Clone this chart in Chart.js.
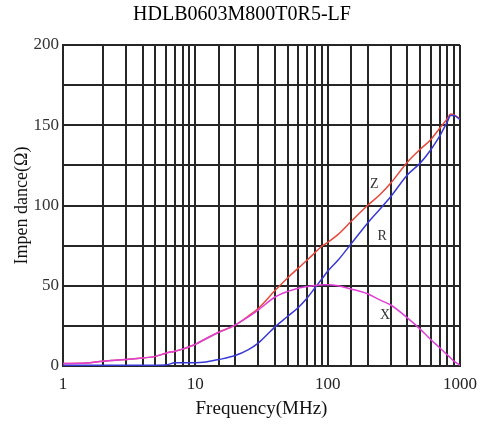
<!DOCTYPE html>
<html><head><meta charset="utf-8">
<script src="https://cdn.jsdelivr.net/npm/chart.js@4/dist/chart.umd.min.js"></script>
<style>html,body{margin:0;padding:0;background:#fff}</style>
</head><body>
<canvas id="c" width="485" height="428"></canvas>
<script>
const chartTitle = 'HDLB0603M800T0R5-LF';
const xAxisTitle = 'Frequency(MHz)';
const yAxisTitle = 'Impen dance(\u03A9)';
const frequencyMHz = [1, 1.5, 2, 3, 4, 5, 6, 7, 8, 9, 10, 12, 15, 20, 25, 30, 40, 50, 60, 70, 80, 90, 100, 120, 150, 200, 250, 300, 400, 500, 600, 700, 800, 850, 900, 1000];
const impedanceZ  = [1.5, 1.8, 3, 4, 5, 6, 8, 9.2, 10.5, 12, 13.5, 17, 21, 25.5, 31, 36, 47, 55, 61, 66, 70.5, 74.5, 77, 82, 90, 100, 107, 114, 127, 135, 141, 148, 154, 157, 156.5, 154];
const resistanceR = [0.5, 0.5, 0.5, 0.5, 0.5, 0.5, 0.6, 2, 2, 2, 2, 2.5, 4, 6.5, 10, 14.4, 24.4, 31, 36.5, 42.4, 48.6, 54, 59, 66, 76, 89, 98, 105.6, 119, 126.4, 134.6, 143, 152, 156, 156, 153.5];
const reactanceX  = [1.5, 1.8, 3, 4, 5, 6, 8, 9.2, 10.5, 12, 13.5, 17, 21, 25.5, 30.5, 35, 43, 46.5, 48.5, 49.5, 50.2, 50.5, 50.7, 50, 48, 45, 41, 38, 30, 23, 16.5, 11.5, 7, 5, 3, 0.5];
const xTickLabels = [1, 10, 100, 1000];
const yTickLabels = [0, 50, 100, 150, 200];
const curveLabelText = ['Z', 'R', 'X'];
const curveLabelFreq = [225, 258, 272];
const curveLabelValue = [113, 80.5, 31.4];

const serif = "'Liberation Serif', 'Times New Roman', serif";
const toPts = arr => frequencyMHz.map((f, i) => ({x: f, y: arr[i]}));

const overlay = {
  id: 'overlay',
  afterDraw(chart) {
    const ctx = chart.ctx;
    ctx.save();
    ctx.fillStyle = '#000';
    ctx.font = '20px ' + serif;
    ctx.textAlign = 'center';
    ctx.textBaseline = 'middle';
    ctx.fillText(chartTitle, 242, 15);
    const xs = chart.scales.x, ys = chart.scales.y;
    ctx.font = '14px ' + serif;
    ctx.fillStyle = '#333';
    curveLabelText.forEach((t, i) => {
      ctx.fillText(t, xs.getPixelForValue(curveLabelFreq[i]), ys.getPixelForValue(curveLabelValue[i]));
    });
    ctx.restore();
  }
};

new Chart(document.getElementById('c'), {
  type: 'line',
  data: {
    datasets: [
      {label: 'Z', order: 2, data: toPts(impedanceZ), borderColor: '#e6483a', borderWidth: 1.5, pointRadius: 0, cubicInterpolationMode: 'monotone'},
      {label: 'R', order: 1, data: toPts(resistanceR), borderColor: '#3838d6', borderWidth: 1.5, pointRadius: 0, cubicInterpolationMode: 'monotone'},
      {label: 'X', order: 0, data: toPts(reactanceX), borderColor: '#e03ed8', borderWidth: 1.5, pointRadius: 0, cubicInterpolationMode: 'monotone'}
    ]
  },
  options: {
    responsive: false,
    animation: false,
    devicePixelRatio: 1,
    layout: {padding: {top: 45, right: 22, left: 0, bottom: 0}},
    plugins: {legend: {display: false}, title: {display: false}, tooltip: {enabled: false}},
    scales: {
      x: {
        type: 'logarithmic', min: 1, max: 1000,
        afterFit(s) { s.height = 62; },
        grid: {color: '#262626', lineWidth: 2, drawTicks: false},
        border: {color: '#262626', width: 2},
        ticks: {
          autoSkip: false, maxRotation: 0, padding: 8,
          font: {family: serif, size: 17}, color: '#222',
          callback: v => xTickLabels.includes(v) ? String(v) : ''
        },
        title: {display: true, text: xAxisTitle, font: {family: serif, size: 19}, color: '#111', padding: {top: 0, bottom: 8}}
      },
      y: {
        min: 0, max: 200,
        afterFit(s) { s.width = 63; },
        grid: {color: '#262626', lineWidth: 2, drawTicks: false},
        border: {color: '#262626', width: 2},
        ticks: {
          stepSize: 25, padding: 4,
          font: {family: serif, size: 17}, color: '#333',
          callback: v => yTickLabels.includes(v) ? String(v) : ''
        },
        title: {display: true, text: yAxisTitle, font: {family: serif, size: 18}, color: '#111', padding: {top: 11, bottom: 0}}
      }
    }
  },
  plugins: [overlay]
});
</script>
</body></html>
